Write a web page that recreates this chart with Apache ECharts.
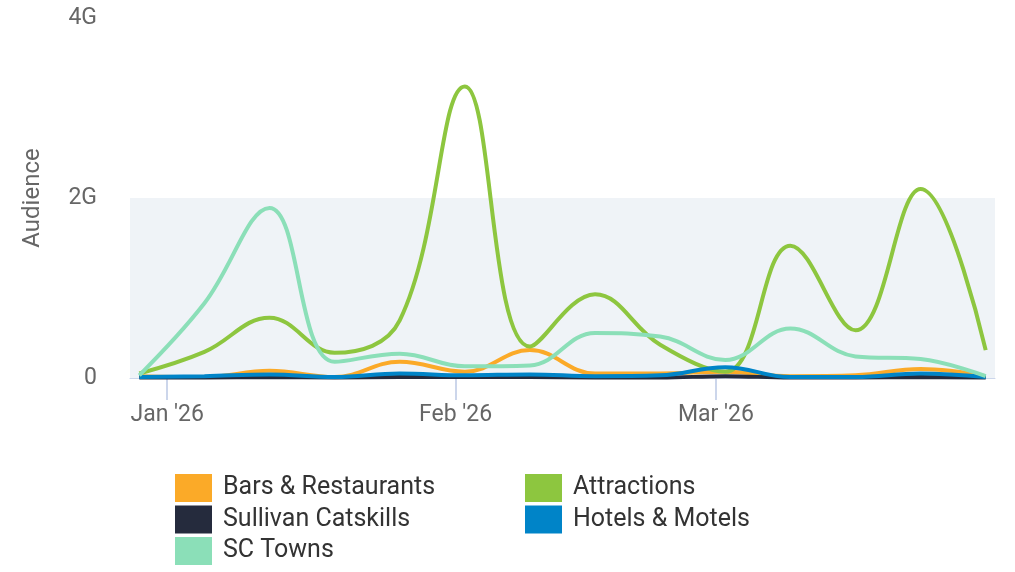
<!DOCTYPE html>
<html>
<head>
<meta charset="utf-8">
<script src="https://cdn.jsdelivr.net/npm/echarts@6/dist/echarts.min.js"></script>
<style>
html,body{margin:0;padding:0;background:#fff;}
#chart{width:1015px;height:572px;}
</style>
</head>
<body>
<div id="chart"></div>
<script>
// Weekly dates
const dates = ['2025-12-29','2026-01-05','2026-01-12','2026-01-19','2026-01-26','2026-02-02','2026-02-09','2026-02-16','2026-02-23','2026-03-02','2026-03-09','2026-03-16','2026-03-23','2026-03-30'];
// Values in billions (G)
const barsRestaurants = [0.02,0.01,0.08,0.01,0.18,0.07,0.31,0.05,0.05,0.07,0.02,0.03,0.10,0.02];
const attractions     = [0.05,0.29,0.67,0.28,0.64,3.24,0.35,0.93,0.37,0.07,1.47,0.53,2.10,0.31];
const sullivanCatskills = [0.005,0.005,0.01,0.005,0.01,0.01,0.01,0.005,0.005,0.02,0.005,0.005,0.01,0.005];
const hotelsMotels    = [0.01,0.02,0.04,0.01,0.05,0.03,0.04,0.02,0.03,0.12,0.01,0.01,0.05,0.01];
const scTowns         = [0.03,0.83,1.89,0.18,0.27,0.13,0.14,0.50,0.46,0.20,0.55,0.24,0.21,0.02];

const xTickDates  = ['2026-01-01','2026-02-01','2026-03-01'];
const xTickLabels = ["Jan '26","Feb '26","Mar '26"];
const yTickLabels = ['0','2G','4G'];

function ts(s){ const p = s.split('-').map(Number); return Date.UTC(p[0], p[1]-1, p[2]); }
const xTicks = xTickDates.map(ts);
const G = 1e9;

const seriesDefs = [
  {name:'Bars & Restaurants', data: barsRestaurants, color:'#fbaa28'},
  {name:'Attractions', data: attractions, color:'#8dc63f'},
  {name:'Sullivan Catskills', data: sullivanCatskills, color:'#252b3d'},
  {name:'Hotels & Motels', data: hotelsMotels, color:'#0084c8'},
  {name:'SC Towns', data: scTowns, color:'#8bdfb8'}
];

const chart = echarts.init(document.getElementById('chart'));
const font = 'Roboto';
const legendCommon = {
  orient: 'vertical', top: 474, height: 98, padding: 0, itemWidth: 37, itemHeight: 28, itemGap: 3.5,
  icon: 'rect', selectedMode: false,
  textStyle: {fontFamily: font, fontSize: 25, color: '#333', padding: [0,0,0,6]}
};
chart.setOption({
  animation: false,
  grid: {left: 130, right: 20, top: 18, bottom: 194, containLabel: false},
  legend: [
    Object.assign({left: 175, data: ['Bars & Restaurants','Sullivan Catskills','SC Towns']}, legendCommon),
    Object.assign({left: 525, data: ['Attractions','Hotels & Motels']}, legendCommon)
  ],
  xAxis: {
    type: 'value',
    min: ts('2025-12-28'),
    max: ts('2026-03-31'),
    axisLine: {show: true, onZero: false, lineStyle: {color: '#ccd6eb', width: 1}},
    axisTick: {show: true, customValues: xTicks, length: 22, lineStyle: {color: '#ccd6eb', width: 2}},
    axisLabel: {
      customValues: xTicks, margin: 26, fontFamily: font, fontSize: 23, color: '#666',
      formatter: function(v){ const i = xTicks.indexOf(v); return i >= 0 ? xTickLabels[i] : ''; }
    },
    splitLine: {show: false}
  },
  yAxis: {
    type: 'value', min: 0, max: 4*G, interval: 2*G,
    name: 'Audience', nameLocation: 'middle', nameGap: 85, nameRotate: 90,
    nameTextStyle: {fontFamily: font, fontSize: 24, color: '#666'},
    axisLine: {show: false}, axisTick: {show: false},
    axisLabel: {
      margin: 33, fontFamily: font, fontSize: 23, color: '#666',
      formatter: function(v){ return yTickLabels[Math.round(v/(2*G))]; }
    },
    splitLine: {show: false},
    splitArea: {show: true, areaStyle: {color: ['#eff3f7', 'rgba(255,255,255,0)']}}
  },
  series: seriesDefs.map(function(s){
    return {
      name: s.name, type: 'line', smooth: 0.4, symbol: 'none', color: s.color,
      lineStyle: {width: 4, color: s.color},
      itemStyle: {color: s.color},
      data: dates.map(function(d, i){ return [ts(d), s.data[i]*G]; })
    };
  })
});
</script>
</body>
</html>
